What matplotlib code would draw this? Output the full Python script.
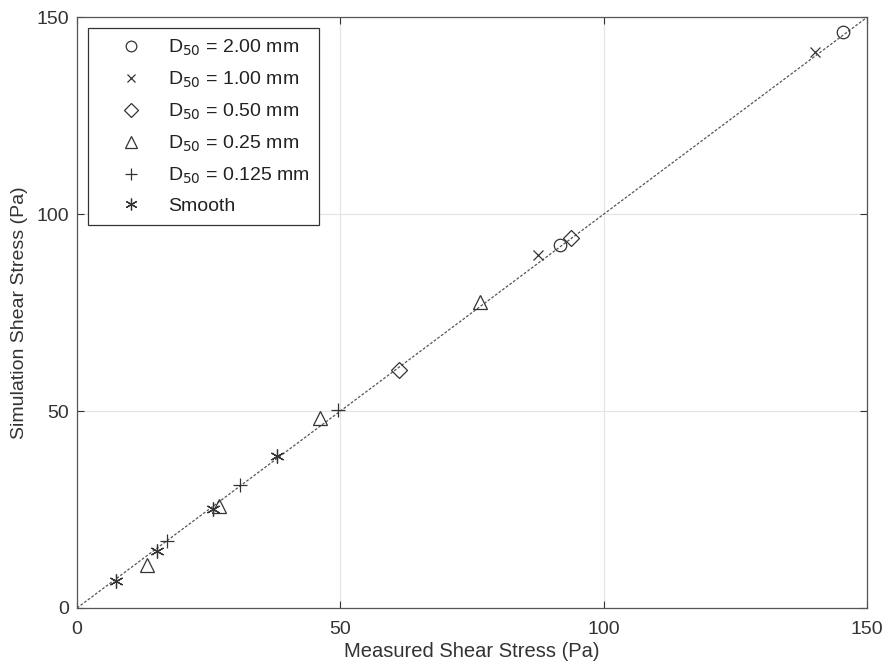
import matplotlib
matplotlib.use("Agg")
import matplotlib.pyplot as plt

plt.rcParams['font.family'] = ['Liberation Sans', 'DejaVu Sans']

# Data (measured, simulated) per series
d200_x = [91.8, 145.5]
d200_y = [92.3, 146.3]
d100_x = [87.6, 140.1]
d100_y = [89.6, 141.1]
d050_x = [61.2, 93.8]
d050_y = [60.4, 94.0]
d025_x = [13.2, 26.9, 46.1, 76.6]
d025_y = [10.9, 26.0, 48.2, 77.8]
d0125_x = [17.1, 30.9, 49.6]
d0125_y = [16.9, 31.3, 50.2]
smooth_x = [7.4, 15.1, 25.8, 37.9]
smooth_y = [6.9, 14.6, 25.2, 38.5]

labels = ['D$_{50}$ = 2.00 mm', 'D$_{50}$ = 1.00 mm', 'D$_{50}$ = 0.50 mm',
          'D$_{50}$ = 0.25 mm', 'D$_{50}$ = 0.125 mm', 'Smooth']
ticks = [0, 50, 100, 150]

W, H = 887, 669
fig = plt.figure(figsize=(W / 100, H / 100), dpi=100)
ax = fig.add_axes([77 / W, 1 - 608 / H, (867 - 77) / W, (608 - 17.3) / H])

c = '#333333'
ax.plot([0, 150], [0, 150], ls=(0, (2.2, 1.4)), color='#555555', lw=0.9, zorder=1)
kw = dict(ls='none', color=c, mfc='none', mew=0.9, zorder=3)
ax.plot(d200_x, d200_y, marker='o', ms=9, label=labels[0], **kw)
ax.plot(d100_x, d100_y, marker='x', ms=7, label=labels[1], **kw)
ax.plot(d050_x, d050_y, marker='D', ms=8, label=labels[2], **kw)
ax.plot(d025_x, d025_y, marker='^', ms=10, label=labels[3], **kw)
ax.plot(d0125_x, d0125_y, marker='+', ms=10, label=labels[4], **kw)
ax.plot(smooth_x, smooth_y, marker=(6, 2, 0), ms=10, label=labels[5], **kw)

ax.set_xlim(0, 150)
ax.set_ylim(0, 150)
ax.set_xticks(ticks)
ax.set_yticks(ticks)
ax.grid(True, color='#e3e3e3', lw=0.8)
ax.set_axisbelow(True)
ax.tick_params(direction='in', length=5, top=True, right=True, labelsize=14,
               colors='#333333', pad=6)
ax.tick_params(axis='x', pad=9)
for s in ax.spines.values():
    s.set_color('#555555')
    s.set_linewidth(0.9)
ax.set_xlabel('Measured Shear Stress (Pa)', fontsize=14.5, color='#333333', labelpad=3)
ax.set_ylabel('Simulation Shear Stress (Pa)', fontsize=14, color='#333333', labelpad=6)

leg = ax.legend(loc='upper left', bbox_to_anchor=(88 / W, 1 - 28 / H),
                bbox_transform=fig.transFigure, fontsize=14, frameon=True,
                fancybox=False, edgecolor='#333333', framealpha=1, borderpad=0.5,
                labelspacing=0.6, handlelength=3.4, handletextpad=0.2,
                borderaxespad=0, markerscale=0.85)
leg.get_frame().set_linewidth(0.9)
for t in leg.get_texts():
    t.set_color('#222222')

fig.savefig('out.png', dpi=100)
